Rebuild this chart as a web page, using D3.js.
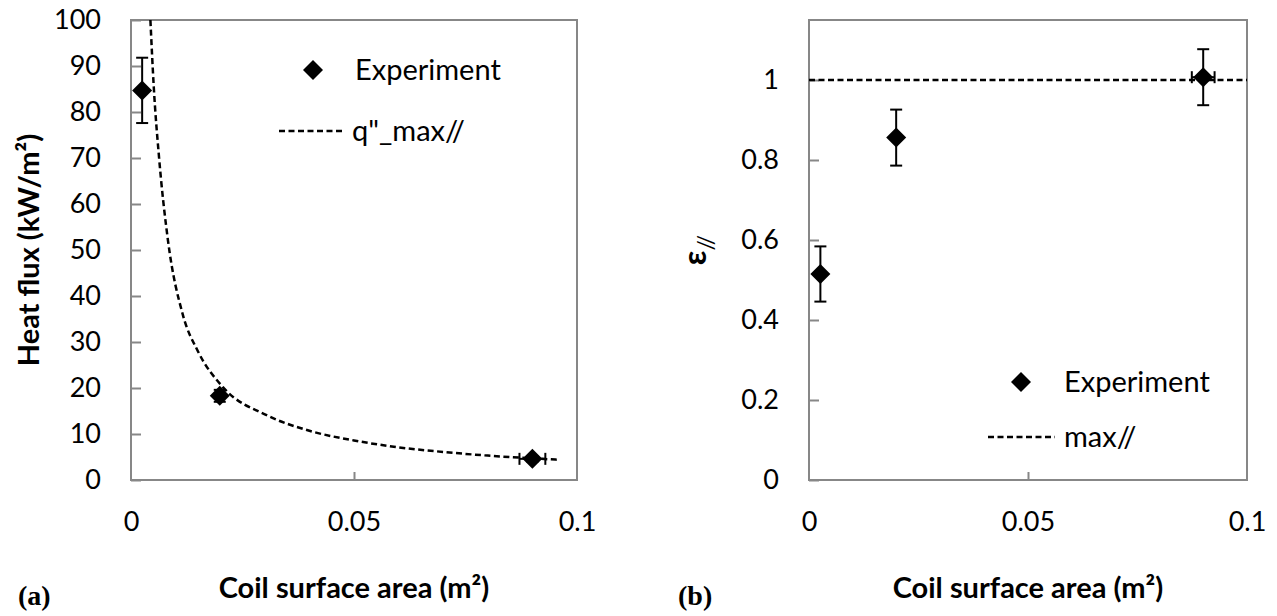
<!DOCTYPE html>
<html>
<head>
<meta charset="utf-8">
<script src="https://cdn.jsdelivr.net/npm/d3@7"></script>
<style>
  body { margin: 0; background: #fff; }
  svg { display: block; }
  .tick text { font-family: Lato, "Open Sans", sans-serif; font-size: 27px; fill: #000; }
  .tick line { stroke: #878787; stroke-width: 2; }
  .title { font-family: Lato, "Open Sans", sans-serif; font-weight: bold; font-size: 29px; }
  .legend { font-family: Lato, "Open Sans", sans-serif; font-size: 29px; }
  .panel { font-family: "Liberation Serif", serif; font-weight: bold; font-size: 28px; }
</style>
</head>
<body>
<svg id="chart" width="1277" height="616"></svg>
<script>
// values
const xTicks = [0, 0.05, 0.1];
const heatTicks = [0, 10, 20, 30, 40, 50, 60, 70, 80, 90, 100];
const effTicks = [0, 0.2, 0.4, 0.6, 0.8, 1];

const area = [0.0025, 0.0199, 0.090];
const areaErr = [0, 0.0008, 0.0029];
const heatFlux = [84.7, 18.3, 4.6];
const heatErr = [7.1, 1.3, 0.6];

const effArea = [0.0026, 0.0199, 0.090];
const effAreaErr = [0, 0, 0.0026];
const effectiveness = [0.515, 0.856, 1.007];
const effErr = [0.069, 0.07, 0.07];

// q"_max// dashed curve
const curveArea = [0.00435, 0.0051, 0.0063, 0.0083, 0.0116, 0.015, 0.0206, 0.0304, 0.04, 0.05, 0.06, 0.07, 0.08, 0.09, 0.0959];
const curveFlux = [100, 85.5, 70, 52, 36, 28, 20.2, 14.1, 10.7, 8.6, 7.1, 6.1, 5.3, 4.7, 4.4];

// max// line
const maxArea = [0, 0.1];
const maxEff = [1, 1];

const svg = d3.select("#chart");
svg.append("rect").attr("width", 1277).attr("height", 616).attr("fill", "#fff");

const diamond = d3.symbol().type(d3.symbolSquare).size(200);

function drawPanel(opt) {
  const x = d3.scaleLinear().domain([0, 0.1]).range([opt.left, opt.right]);
  const y = d3.scaleLinear().domain(opt.yDomain).range([480, 20]);

  // plot border
  svg.append("rect")
      .attr("x", opt.left).attr("y", 20)
      .attr("width", opt.right - opt.left).attr("height", 460)
      .attr("fill", "none").attr("stroke", "#878787").attr("stroke-width", 2);

  const yAxis = svg.append("g")
      .attr("transform", `translate(${opt.left},0)`)
      .call(d3.axisLeft(y).tickValues(opt.yTicks).tickSize(-10).tickPadding(30).tickFormat(d3.format("")));
  yAxis.select(".domain").remove();

  const xAxis = svg.append("g")
      .attr("transform", `translate(0,480)`)
      .call(d3.axisBottom(x).tickValues(xTicks).tickSize(-8).tickPadding(32).tickFormat(d3.format("")));
  xAxis.select(".domain").remove();
  // ticks at the ends sit on the border
  xAxis.selectAll(".tick line").filter(d => d === 0 || d === 0.1).remove();

  const clip = "clip" + opt.id;
  svg.append("clipPath").attr("id", clip)
    .append("rect").attr("x", opt.left).attr("y", 20)
    .attr("width", opt.right - opt.left).attr("height", 460);

  // dashed line
  const line = d3.line().x(d => x(d[0])).y(d => y(d[1])).curve(d3.curveMonotoneX);
  svg.append("path")
      .datum(d3.zip(opt.lineX, opt.lineY))
      .attr("clip-path", `url(#${clip})`)
      .attr("d", line)
      .attr("fill", "none")
      .attr("stroke", "#000")
      .attr("stroke-width", 2.5)
      .attr("stroke-dasharray", "6,3.5");

  // error bars
  const pts = d3.range(opt.px.length).map(i => ({x: opt.px[i], y: opt.py[i], ey: opt.ey[i], ex: opt.ex[i]}));
  const eb = svg.append("g").attr("stroke", "#000").attr("stroke-width", 2);
  pts.forEach(p => {
    if (p.ey > 0) {
      eb.append("line").attr("x1", x(p.x)).attr("x2", x(p.x)).attr("y1", y(p.y - p.ey)).attr("y2", y(p.y + p.ey));
      [p.y - p.ey, p.y + p.ey].forEach(v => {
        eb.append("line").attr("x1", x(p.x) - 6).attr("x2", x(p.x) + 6).attr("y1", y(v)).attr("y2", y(v));
      });
    }
    if (p.ex > 0) {
      eb.append("line").attr("x1", x(p.x - p.ex)).attr("x2", x(p.x + p.ex)).attr("y1", y(p.y)).attr("y2", y(p.y));
      [p.x - p.ex, p.x + p.ex].forEach(v => {
        eb.append("line").attr("x1", x(v)).attr("x2", x(v)).attr("y1", y(p.y) - 6).attr("y2", y(p.y) + 6);
      });
    }
  });

  // markers
  svg.append("g").selectAll("path")
    .data(pts)
    .join("path")
      .attr("d", diamond)
      .attr("transform", d => `translate(${x(d.x)},${y(d.y)}) rotate(45)`)
      .attr("fill", "#000");

  // legend
  svg.append("path").attr("d", diamond)
      .attr("transform", `translate(${opt.legX},${opt.legY}) rotate(45)`).attr("fill", "#000");
  svg.append("text").attr("class", "legend")
      .attr("x", opt.legTextX).attr("y", opt.legY + 10).text("Experiment");
  svg.append("line")
      .attr("x1", opt.legLine[0]).attr("x2", opt.legLine[1])
      .attr("y1", opt.legY + opt.legGap).attr("y2", opt.legY + opt.legGap)
      .attr("stroke", "#000").attr("stroke-width", 2.5).attr("stroke-dasharray", "6,3.5");
  svg.append("text").attr("class", "legend")
      .attr("x", opt.legTextX2).attr("y", opt.legY + opt.legGap + 10).text(opt.lineName);

  // x title
  svg.append("text").attr("class", "title")
      .attr("x", (opt.left + opt.right) / 2).attr("y", 598)
      .attr("text-anchor", "middle")
      .text("Coil surface area (m²)");

  // panel letter
  svg.append("text").attr("class", "panel")
      .attr("x", opt.letterX).attr("y", 605).text(opt.letter);
}

drawPanel({
  id: "a", left: 131, right: 577, yDomain: [0, 100], yTicks: heatTicks,
  lineX: curveArea, lineY: curveFlux,
  px: area, py: heatFlux, ey: heatErr, ex: areaErr,
  legX: 313, legY: 70, legTextX: 355, legTextX2: 352, legLine: [279, 345], legGap: 61,
  lineName: "q\"_max//", letter: "(a)", letterX: 18
});

drawPanel({
  id: "b", left: 809, right: 1247, yDomain: [0, 1.15], yTicks: effTicks,
  lineX: maxArea, lineY: maxEff,
  px: effArea, py: effectiveness, ey: effErr, ex: effAreaErr,
  legX: 1021, legY: 382, legTextX: 1064, legTextX2: 1064, legLine: [988, 1055], legGap: 55,
  lineName: "max//", letter: "(b)", letterX: 678
});

// y titles
svg.append("text").attr("class", "title")
    .attr("transform", "translate(39,250) rotate(-90)")
    .attr("text-anchor", "middle")
    .text("Heat flux (kW/m²)");

const eps = svg.append("text").attr("class", "title")
    .attr("transform", "translate(706,250) rotate(-90)")
    .attr("text-anchor", "middle")
    .style("font-size", "32px");
eps.append("tspan").text("ε");
eps.append("tspan").attr("dy", 8).style("font-size", "23px").style("font-weight", "normal").text("//");
</script>
</body>
</html>
